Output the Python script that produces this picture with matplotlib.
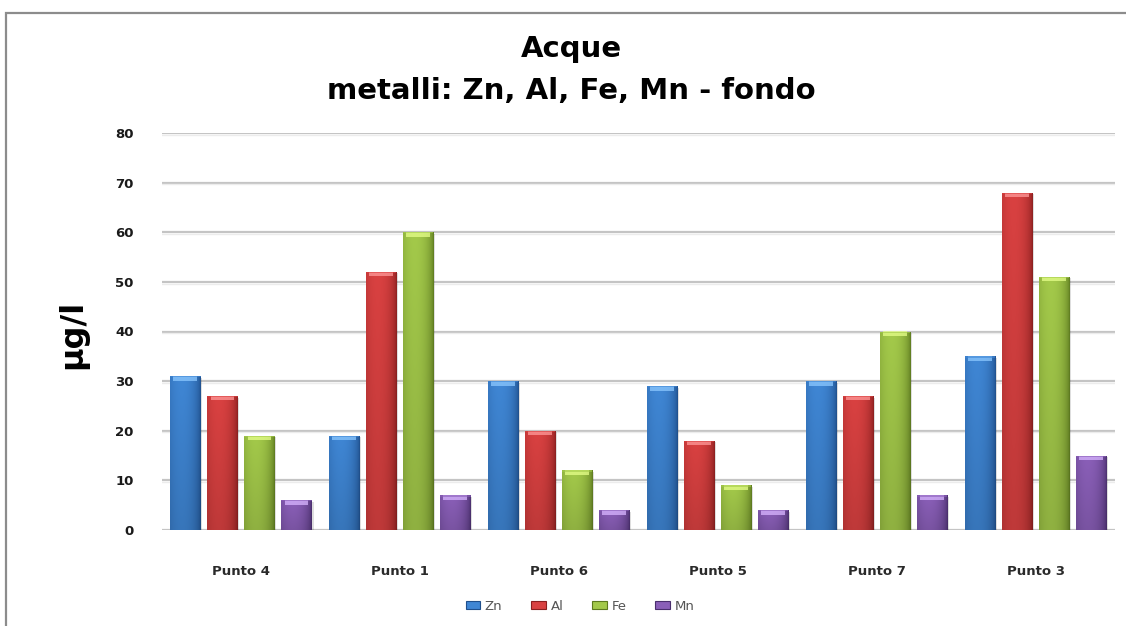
import numpy as np
import matplotlib
matplotlib.use("Agg")
import matplotlib.pyplot as plt
from matplotlib.patches import Rectangle
from matplotlib.colors import to_rgb

categories = ["Punto 4", "Punto 1", "Punto 6", "Punto 5", "Punto 7", "Punto 3"]
series_names = ["Zn", "Al", "Fe", "Mn"]
zn = [31, 19, 30, 29, 30, 35]
al = [27, 52, 20, 18, 27, 68]
fe = [19, 60, 12, 9, 40, 51]
mn = [6, 7, 4, 4, 7, 15]
y_ticks = [0, 10, 20, 30, 40, 50, 60, 70, 80]

series_values = [zn, al, fe, mn]
# (dark edge, body, highlight cap)
palette = [
    ("#1f4f8c", "#3f86d4", "#8cc8ff"),
    ("#8a1f1f", "#d94141", "#ff9a9a"),
    ("#5d7a1f", "#a3c94a", "#e6ff8a"),
    ("#4a2f6e", "#8a5fb8", "#d8b6ff"),
]

W, H = 1126, 626
fig = plt.figure(figsize=(W / 100, H / 100), dpi=100)
fig.patch.set_facecolor("white")

# chart frame
fig.add_artist(Rectangle((6 / W, -0.05), 1.1, 1 - 13 / H + 0.05,
                         transform=fig.transFigure, fill=False,
                         edgecolor="#8c8c8c", linewidth=1.6))

ax = fig.add_axes([161.5 / W, 1 - 530 / H, (1115 - 161.5) / W, (530 - 133) / H])
ax.set_xlim(-0.5, len(categories) - 0.5)
ax.set_ylim(0, 80)
for s in ax.spines.values():
    s.set_visible(False)

for t in y_ticks:
    ax.axhline(t, color="#c4c4c4", linewidth=1.6, zorder=0)
    ax.axhline(t - 0.35, color="#ececec", linewidth=1.0, zorder=0)

pitch = 0.233
bar_w = 0.19
x = np.arange(len(categories))


def shade(base, edge, n=64):
    b = np.array(to_rgb(base))
    e = np.array(to_rgb(edge))
    u = np.linspace(0, 1, n)
    # darker at both edges, brightest a little left of centre
    prof = np.clip(1 - ((u - 0.38) / 0.62) ** 2, 0, 1) ** 0.6
    cols = e[None, :] + (b - e)[None, :] * prof[:, None]
    v = np.linspace(0.88, 1.0, 32)[:, None, None]
    return np.clip(cols[None, :, :] * v, 0, 1)


for i, (vals, (dark, body, cap)) in enumerate(zip(series_values, palette)):
    offs = (i - 1.5) * pitch
    img = shade(body, dark)
    for xi, v in zip(x + offs, vals):
        # soft drop shadow
        ax.bar(xi + 0.012, v, width=bar_w, bottom=-0.3, color="#000000",
               alpha=0.13, zorder=1, linewidth=0)
        b = ax.bar(xi, v, width=bar_w, color=body, zorder=2, linewidth=0)[0]
        im = ax.imshow(img, extent=[xi - bar_w / 2, xi + bar_w / 2, 0, v],
                       aspect="auto", origin="lower", zorder=3,
                       interpolation="bilinear")
        im.set_clip_path(b)
        ax.add_patch(Rectangle((xi - bar_w / 2 + 0.02, v - 0.9), bar_w - 0.04, 0.9,
                               facecolor=cap, alpha=0.75, linewidth=0, zorder=4))
        ax.add_patch(Rectangle((xi - bar_w / 2, v - 0.25), bar_w, 0.25,
                               facecolor=body, alpha=0.6, linewidth=0, zorder=4))

ax.set_xlim(-0.5, len(categories) - 0.5)
ax.set_ylim(0, 80)
ax.set_aspect("auto")

ax.set_yticks(y_ticks)
ax.set_yticklabels([str(t) for t in y_ticks], fontsize=9.5, fontweight="bold",
                   color="#1a1a1a")
ax.set_xticks(x)
ax.set_xticklabels(categories, fontsize=9.5, fontweight="bold", color="#2a2a2a")
ax.tick_params(axis="y", length=0, pad=20)
ax.tick_params(axis="x", length=0, pad=25)

fig.text(571 / W, 1 - 49 / H, "Acque", ha="center", va="center",
         fontsize=21, fontweight="bold")
fig.text(571 / W, 1 - 91 / H, "metalli: Zn, Al, Fe, Mn - fondo", ha="center",
         va="center", fontsize=21, fontweight="bold")
fig.text(73 / W, 1 - 334 / H, "µg/l", rotation=90, ha="center", va="center",
         fontsize=23, fontweight="bold")

# legend
handles = [Rectangle((0, 0), 1, 1, facecolor=p[1], edgecolor=p[0], linewidth=0.8)
           for p in palette]
fig.legend(handles, series_names, loc="center", bbox_to_anchor=(580 / W, 1 - 606 / H),
           ncol=4, frameon=False, fontsize=9.5, handlelength=1.1, handleheight=0.6,
           handletextpad=0.35, columnspacing=2.2, labelcolor="#555555")

fig.savefig("out.png", dpi=100, facecolor="white")
